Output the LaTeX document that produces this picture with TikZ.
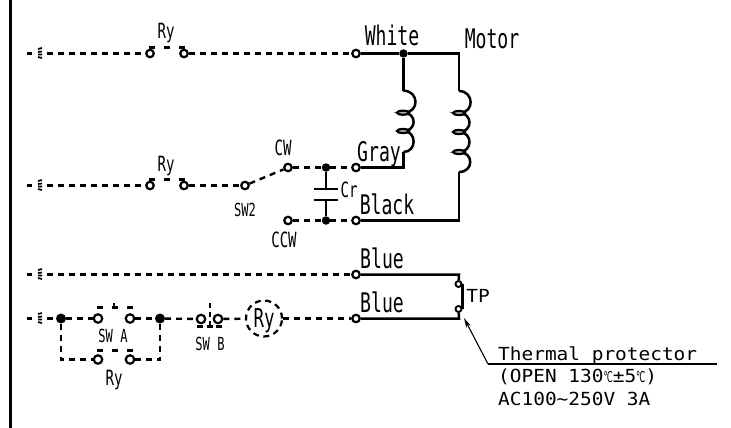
\documentclass[tikz,border=0pt]{standalone}
\usepackage{fontspec}
\usetikzlibrary{arrows.meta}
\newfontfamily\narrowf[FakeStretch=0.67]{DejaVu Sans Mono}
\newfontfamily\widef[FakeStretch=1.08]{DejaVu Sans Mono}
\newfontfamily\dgf[FakeStretch=0.55]{DejaVu Sans}
\newcommand{\bigt}{\narrowf\fontsize{27}{27}\selectfont}
\newcommand{\smt}{\narrowf\fontsize{21}{21}\selectfont}
\newcommand{\swt}{\narrowf\fontsize{18}{18}\selectfont}
\newcommand{\wt}{\widef\fontsize{18}{18}\selectfont}
\tikzset{
  wire/.style={line width=2.5pt},
  dwire/.style={line width=2.4pt,dash pattern=on 6pt off 5pt},
  term/.style={circle,draw,line width=2.2pt,fill=white,minimum size=7.5pt,inner sep=0pt},
  jdot/.style={circle,fill=black,minimum size=8.5pt,inner sep=0pt},
  bdot/.style={circle,fill=black,minimum size=10pt,inner sep=0pt},
  lab/.style={anchor=base,inner sep=0pt},
  contact/.style={line width=2.2pt,dash pattern=on 6pt off 9pt},
  pics/plug/.style={code={
    \draw[line width=3pt] (-14,0) -- (-9,0);
    \draw[line width=1.7pt] (1,-5.5) -- (-3,-4.5) (1,-2) -- (-3,-1.5) (1,1) -- (-3,1) (1,4.5) -- (-3,3.5);
  }}
}
\begin{document}
\begin{tikzpicture}[x=1pt,y=-1pt]
\useasboundingbox (0,0) rectangle (731,428);
\fill[white] (0,0) rectangle (731,428);
\draw[line width=2.6pt] (10.5,0) -- (10.5,428);
% plugs
\pic at (41,53.5) {plug};
\pic at (41,185.5) {plug};
\pic at (41,274.5) {plug};
\pic at (41,318.5) {plug};
\coordinate (p1) at (47,53.5);
\coordinate (p2) at (47,185.5);
\coordinate (p3) at (47,274.5);
\coordinate (p4) at (47,318.5);
% terminals
\node[term] (a1) at (150,53.5) {};
\node[term] (a2) at (184,53.5) {};
\node[term] (w) at (356,53.5) {};
\node[jdot] (wj) at (403.5,53.5) {};
\coordinate (wc) at (459,53.5);
\node[term] (b1) at (150,185.5) {};
\node[term] (b2) at (184,185.5) {};
\node[term] (sw2) at (245,185.5) {};
\node[term] (cw) at (288,167.5) {};
\node[jdot] (cj1) at (326,167.5) {};
\node[term] (g) at (356,167.5) {};
\coordinate (gc) at (403.5,167.5);
\node[term] (ccw) at (288,220.5) {};
\node[jdot] (cj2) at (326,220.5) {};
\node[term] (k) at (356,220.5) {};
\coordinate (kc) at (459,220.5);
\node[term] (b31) at (356,274.5) {};
\coordinate (bc1) at (459,274.5);
\node[term] (b41) at (356,318.5) {};
\coordinate (bc2) at (459,318.5);
\node[term,minimum size=6pt,line width=1.9pt] (tp1) at (458.5,284) {};
\node[term,minimum size=6pt,line width=1.9pt] (tp2) at (458.5,309) {};
\node[bdot] (d1) at (61,318.5) {};
\node[term,minimum size=8.5pt] (sa1) at (98,318.5) {};
\node[term,minimum size=8.5pt] (sa2) at (130,318.5) {};
\node[bdot] (d2) at (160,318.5) {};
\node[term,minimum size=8.5pt] (ra1) at (98,359.5) {};
\node[term,minimum size=8.5pt] (ra2) at (130,359.5) {};
\coordinate (rc1) at (61,359.5);
\coordinate (rc2) at (160,359.5);
\node[term,minimum size=8.5pt] (sb1) at (201,319) {};
\node[term,minimum size=8.5pt] (sb2) at (218,319) {};
\node[circle,draw,line width=2.2pt,dash pattern=on 6pt off 4.5pt,minimum size=36pt,inner sep=0pt] (ry) at (264,318.5) {};
% dashed wires
\draw[dwire] (p1) -- (a1);
\draw[dwire] (a2) -- (w);
\draw[dwire] (p2) -- (b1);
\draw[dwire] (b2) -- (sw2);
\draw[dwire] (sw2) -- (cw);
\draw[dwire] (cw) -- (cj1);
\draw[dwire] (cj1) -- (g);
\draw[dwire] (ccw) -- (cj2);
\draw[dwire] (cj2) -- (k);
\draw[dwire] (p3) -- (b31);
\draw[dwire] (p4) -- (d1);
\draw[dwire] (d1) -- (sa1);
\draw[dwire] (sa2) -- (d2);
\draw[dwire] (d2) -- (sb1);
\draw[dwire] (sb2) -- (ry);
\draw[dwire] (ry) -- (b41);
\draw[dwire] (d1) -- (rc1) -- (ra1);
\draw[dwire] (d2) -- (rc2) -- (ra2);
% relay contacts
\draw[contact] (149,47.5) -- (185,47.5);
\draw[contact] (149,179.5) -- (185,179.5);
\draw[contact] (97,307.5) -- (133,307.5);
\draw[contact] (97,350.5) -- (133,350.5);
\draw[line width=2.2pt] (114,303) -- (114,308);
\draw[line width=2.2pt,dash pattern=on 5pt off 4pt] (210,303) -- (210,327);
\draw[line width=2.2pt,dash pattern=on 6pt off 3.5pt] (197,326.5) -- (223,326.5);
% solid wires
\draw[wire] (w) -- (wj) -- (wc) -- (459,91);
\draw[wire] (wj) -- (403.5,90.7);
\draw[wire] (g) -- (gc) -- (403.5,152);
\draw[wire] (k) -- (kc) -- (459,172);
\draw[wire] (b31) -- (bc1) -- (tp1);
\draw[wire] (b41) -- (bc2) -- (tp2);
\draw[line width=2.2pt] (tp1.east) -- (tp2.east);
% coils
\draw[wire] (403.5,90.7) .. controls (419,90.7) and (420,112.7) .. (403.5,112.7)
  .. controls (417,112.7) and (417,131) .. (403.5,131)
  .. controls (417,131) and (417,152) .. (403.5,152);
\draw[line width=2.2pt,fill=gray!60] (403,112.7) ellipse [x radius=6,y radius=2];
\draw[line width=2.2pt,fill=gray!60] (403,131) ellipse [x radius=6,y radius=2];
\draw[wire] (459,91) .. controls (474,91) and (475,113) .. (459,113)
  .. controls (473,113) and (473,132) .. (459,132)
  .. controls (473,132) and (473,152) .. (459,152)
  .. controls (474,152) and (474,172) .. (459,172);
\foreach \cy in {113,132,152} \draw[line width=2.2pt,fill=gray!60] (459,\cy) ellipse [x radius=6,y radius=2];
% capacitor
\draw[wire] (cj1) -- (326,189);
\draw[wire] (314,189) -- (338,189);
\draw[wire] (314,200) -- (338,200);
\draw[wire] (326,200) -- (cj2);
% thermal protector leader
\coordinate (la) at (488,364);
\coordinate (lb) at (717,364);
\coordinate (lc) at (464,318);
\draw[line width=1.1pt] (lb) -- (la);
\draw[line width=1.1pt,-{Stealth[length=10pt,width=5pt]}] (la) -- (lc);
% labels
\node[lab,font=\smt] (t1) at (166,39) {Ry};
\node[lab,font=\smt] (t2) at (166,171) {Ry};
\node[lab,font=\bigt] (t3) at (392,46) {White};
\node[lab,font=\bigt] (t4) at (492,49) {Motor};
\node[lab,font=\bigt] (t5) at (379,161) {Gray};
\node[lab,font=\bigt] (t6) at (387,214) {Black};
\node[lab,font=\bigt] (t7) at (382,268) {Blue};
\node[lab,font=\bigt] (t8) at (382,312) {Blue};
\node[lab,font=\smt] (t9) at (283,155) {CW};
\node[lab,font=\swt] (t10) at (245,216) {SW2};
\node[lab,font=\smt] (t11) at (284,247) {CCW};
\node[lab,font=\smt] (t12) at (349,197) {Cr};
\node[lab,font=\swt] (t13) at (113,342) {SW A};
\node[lab,font=\smt] (t14) at (114,385) {Ry};
\node[lab,font=\swt] (t15) at (210,350) {SW B};
\node[lab,font={\narrowf\fontsize{26}{26}\selectfont}] (t16) at (264,327) {Ry};
\node[lab,font=\wt] (t17) at (478,302) {TP};
\node[lab,anchor=base west,font=\wt] (t18) at (498,360) {Thermal protector};
\node[lab,anchor=base west,font=\wt] (t19) at (498,382) {(OPEN 130{\dgf\fontsize{15}{15}\selectfont ℃}±5{\dgf\fontsize{15}{15}\selectfont ℃})};
\node[lab,anchor=base west,font=\wt] (t20) at (498,405) {AC100\textasciitilde{}250V 3A};
\end{tikzpicture}
\end{document}
